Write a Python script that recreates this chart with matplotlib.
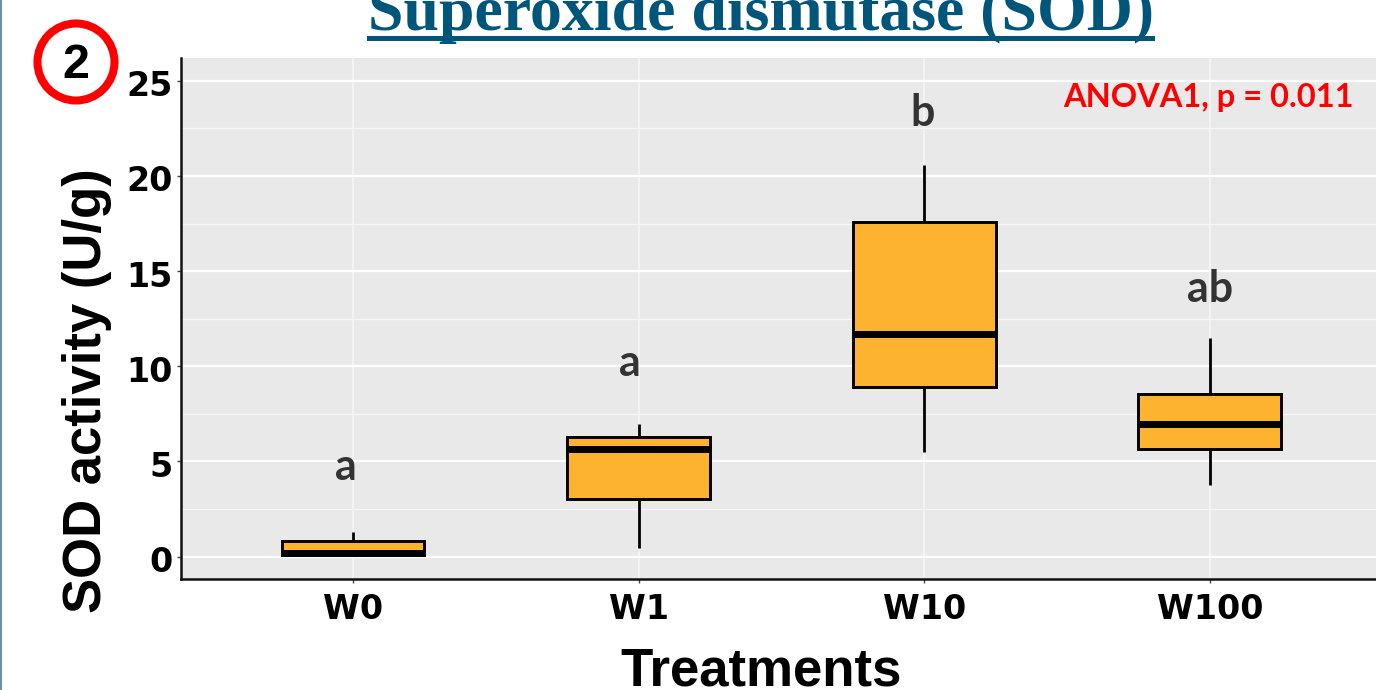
import matplotlib
matplotlib.use("Agg")
import matplotlib.pyplot as plt
from matplotlib.patches import Circle, Rectangle
from matplotlib.transforms import ScaledTranslation

# values
treatments = ["W0", "W1", "W10", "W100"]
whisker_low = [0.1, 0.45, 5.5, 3.75]
q1 = [0.1, 3.0, 8.9, 5.65]
median = [0.2, 5.65, 11.7, 6.95]
q3 = [0.8, 6.3, 17.6, 8.55]
whisker_high = [1.3, 6.95, 20.6, 11.5]
letters = ["a", "a", "b", "ab"]
letter_x = [-0.025, 0.97, 1.995, 3.0]
letter_y = [4.03, 9.5, 22.65, 13.4]
y_ticks = [0, 5, 10, 15, 20, 25]
y_minor = [2.5, 7.5, 12.5, 17.5, 22.5]

W, H = 1376, 690
fig = plt.figure(figsize=(W / 100, H / 100), dpi=100, facecolor="white")
plt.rcParams["font.family"] = "Liberation Sans"

ax = fig.add_axes([181 / W, 1 - 579 / H, (W - 181) / W, (579 - 58) / H])
ax.set_facecolor("#e9e9e9")

stats = []
for i in range(len(treatments)):
    stats.append({"whislo": whisker_low[i], "q1": q1[i], "med": median[i],
                  "q3": q3[i], "whishi": whisker_high[i], "fliers": []})

ax.bxp(stats, positions=range(4), widths=0.5, showcaps=False, showfliers=False,
       patch_artist=True, zorder=3,
       boxprops=dict(facecolor="#fdb32f", edgecolor="black", linewidth=2.1),
       whiskerprops=dict(color="black", linewidth=2.0, solid_capstyle="butt"),
       medianprops=dict(color="black", linewidth=5, solid_capstyle="butt"))

ax.set_xlim(-0.602, 3.582)
ax.set_ylim(-1.18, 26.2)
ax.set_xticks(range(4))
ax.set_xticklabels(treatments, fontsize=24, fontweight="bold", family="DejaVu Sans")
ax.set_yticks(y_ticks)
ax.set_yticklabels([str(t) for t in y_ticks], fontsize=24, fontweight="bold", family="DejaVu Sans")
ax.set_yticks(y_minor, minor=True)
ax.tick_params(axis="x", which="major", length=3, width=1, color="#444444", pad=7)
ax.tick_params(axis="y", which="major", length=3, width=1, color="#444444", pad=3)
ax.tick_params(axis="y", which="minor", length=0)
ax.grid(True, which="major", axis="y", color="white", linewidth=1.6, zorder=0)
ax.grid(True, which="major", axis="x", color="#f4f4f4", linewidth=1.4, zorder=0)
ax.grid(True, which="minor", axis="y", color="#f6f6f6", linewidth=1.0, zorder=0)
ax.set_axisbelow(True)
for s in ["top", "right"]:
    ax.spines[s].set_visible(False)
for s in ["left", "bottom"]:
    ax.spines[s].set_linewidth(1.8)
    ax.spines[s].set_color("#111111")

# the y labels sit a little under their grid lines
for lbl in ax.get_yticklabels():
    lbl.set_transform(lbl.get_transform() + ScaledTranslation(0, -2.5 / 100, fig.dpi_scale_trans))

for i in range(4):
    ax.text(letter_x[i], letter_y[i], letters[i], ha="center", va="baseline", fontsize=31,
            fontweight="bold", family="Lato", color="#333333", zorder=4)

fig.text(1354 / W, 1 - 97 / H, "ANOVA1, p = 0.011", ha="right", va="center",
         fontsize=23.5, fontweight="bold", family="Lato", color="#ff0000")

fig.text(87 / W, 1 - 391 / H, "SOD activity (U/g)", rotation=90, ha="center",
         va="center", fontsize=38, fontweight="bold")
fig.text(761 / W, 1 - 671 / H, "Treatments", ha="center", va="center",
         fontsize=38, fontweight="bold")

# page furniture around the chart, in pixel coordinates
over = fig.add_axes([0, 0, 1, 1], facecolor="none")
over.set_xlim(0, W)
over.set_ylim(H, 0)
over.axis("off")
over.add_patch(Rectangle((0, 0), 2, H, facecolor="#6a90aa", edgecolor="none"))
over.add_patch(Circle((76, 62), 38.5, facecolor="white", edgecolor="#ff0000", linewidth=5.8))
over.text(76, 65, "2", ha="center", va="center", fontsize=35, fontweight="bold", color="black")
title = over.text(761, 30, "Superoxide dismutase (SOD)", ha="center", va="baseline",
                  fontsize=46, fontweight="bold", family="Liberation Serif", color="#00557a")
underline = over.add_patch(Rectangle((367, 36), 788, 5, facecolor="#00557a", edgecolor="none"))
# descenders stop at the underline in the original
title.set_clip_path(Rectangle((0, 0), W, 41, transform=over.transData))

fig.savefig("out.png", dpi=100)
